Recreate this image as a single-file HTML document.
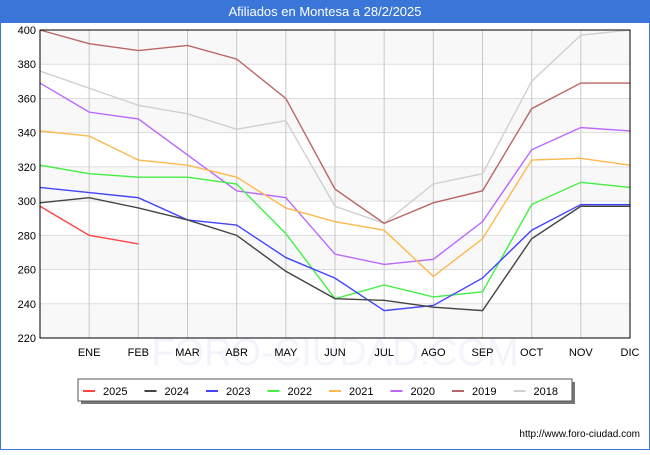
<!DOCTYPE html>
<html><head><meta charset="utf-8"><style>
body{margin:0;width:650px;height:450px;background:#fff;font-family:"Liberation Sans",sans-serif;overflow:hidden}
</style></head><body>
<svg width="650" height="450" xmlns="http://www.w3.org/2000/svg">
<rect x="0" y="0" width="650" height="22" fill="#3a76d8"/>
<text x="325" y="16" fill="#fff" font-size="13" text-anchor="middle">Afiliados en Montesa a 28/2/2025</text>
<rect x="0" y="22" width="650" height="428" fill="none" stroke="#3a76d8" stroke-width="2"/>
<g id="plot"></g>
<text x="640" y="437" font-size="10" text-anchor="end" fill="#000">http://www.foro-ciudad.com</text>
</svg>
<script>
const months=["","ENE","FEB","MAR","ABR","MAY","JUN","JUL","AGO","SEP","OCT","NOV","DIC"];
const yTicks=[220,240,260,280,300,320,340,360,380,400];
const seriesNames=["2025","2024","2023","2022","2021","2020","2019","2018"];
const seriesColors=["#ff4444","#444444","#4444ff","#44ee44","#ffb84d","#bb66ff","#bb6666","#d0d0d0"];
const s2025=[297,280,275];
const s2024=[299,302,296,289,280,259,243,242,238,236,278,297,297];
const s2023=[308,305,302,289,286,267,255,236,239,255,283,298,298];
const s2022=[321,316,314,314,310,281,243,251,244,247,298,311,308];
const s2021=[341,338,324,321,314,296,288,283,256,278,324,325,321];
const s2020=[369,352,348,327,306,302,269,263,266,288,330,343,341];
const s2019=[400,392,388,391,383,360,307,287,299,306,354,369,369];
const s2018=[376,366,356,351,342,347,297,287,310,316,370,397,400];
const allSeries=[s2025,s2024,s2023,s2022,s2021,s2020,s2019,s2018];
const NS="http://www.w3.org/2000/svg";
const L=40,R=630,T=30,B=338,ymin=220,ymax=400;
const xs=i=>L+(R-L)*i/(months.length-1);
const ys=v=>B-(v-ymin)/(ymax-ymin)*(B-T);
const g=document.getElementById('plot');
function mk(tag,attrs,parent){const e=document.createElementNS(NS,tag);for(const k in attrs)e.setAttribute(k,attrs[k]);(parent||g).appendChild(e);return e;}
for(let i=0;i<yTicks.length-1;i++){
 if(i%2===0){const r=mk('rect',{x:L,y:ys(yTicks[i+1]),width:R-L,height:ys(yTicks[i])-ys(yTicks[i+1]),fill:'#f8f8f8'});
 
 }
}
const wm=mk('text',{x:335,y:365,'font-size':38,'text-anchor':'middle',fill:'#f3f4fb'});
wm.textContent='FORO-CIUDAD.COM';


yTicks.forEach(v=>{
 const l=mk('line',{x1:L,x2:R,y1:ys(v),y2:ys(v),stroke:'#dddddd','stroke-width':1});
 
 
 const t=mk('text',{x:L-4,y:ys(v)+4,'font-size':11,'text-anchor':'end',fill:'#000'});
 t.textContent=v;
 
 
});
months.forEach((m,i)=>{
 if(i>0){const l=mk('line',{x1:xs(i),x2:xs(i),y1:T,y2:B,stroke:'#c8c8c8','stroke-width':1});
 
 
 const t=mk('text',{x:xs(i),y:B+18,'font-size':11,'text-anchor':'middle',fill:'#000'});
 t.textContent=m;
 
 }
});
for(let k=allSeries.length-1;k>=0;k--){
 const pts=allSeries[k].map((v,i)=>xs(i)+','+ys(v)).join(' ');
 const p=mk('polyline',{points:pts,fill:'none',stroke:seriesColors[k],'stroke-width':1.4});
 
 
}
const fr=mk('rect',{x:L,y:T,width:R-L,height:B-T,fill:'none',stroke:'#000','stroke-width':1});


const lg=mk('g',{});


mk('rect',{x:81,y:382,width:494,height:22,fill:'#777'},lg);
mk('rect',{x:78,y:379,width:494,height:22,fill:'#fff',stroke:'#555','stroke-width':1},lg);
seriesNames.forEach((n,i)=>{
 const x0=83+i*61.5;
 const e=mk('g',{},lg);
 
 
 mk('line',{x1:x0,x2:x0+12,y1:391,y2:391,stroke:seriesColors[i],'stroke-width':2},e);
 const t=mk('text',{x:x0+20,y:395,'font-size':11,fill:'#000'},e);
 t.textContent=n;
});
</script>
</body></html>
